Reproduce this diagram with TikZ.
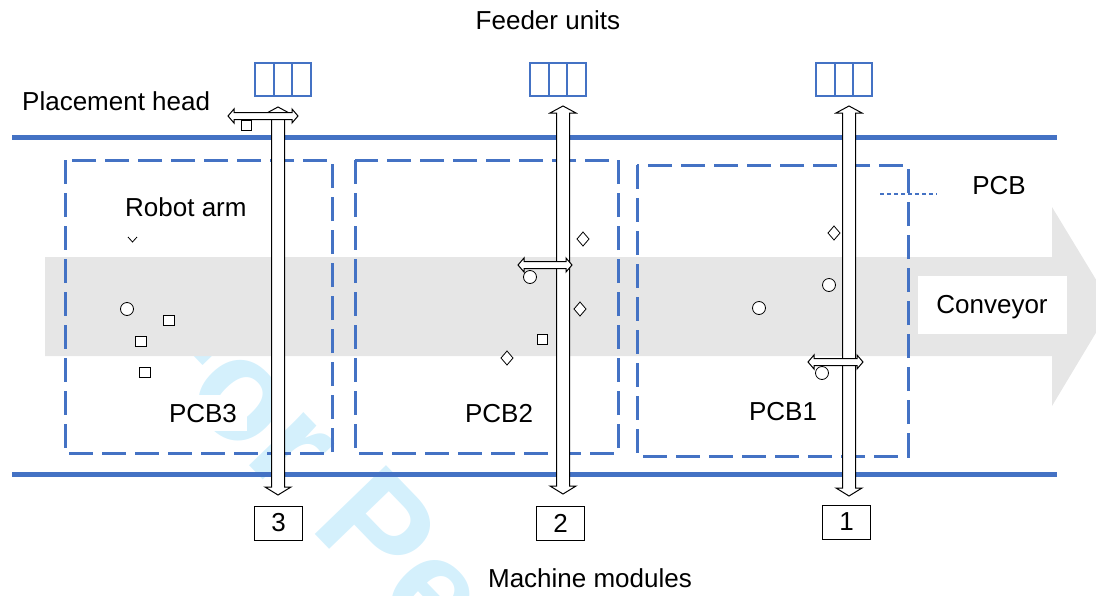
\documentclass[tikz,border=0pt]{standalone}
\usepackage{fontspec}
\setmainfont{Liberation Sans}
\definecolor{pblue}{RGB}{68,114,196}
\definecolor{cgray}{RGB}{230,230,230}
\definecolor{wmcyan}{RGB}{212,240,252}
\newcommand\vdarr[3]{%
 \filldraw[arr] (#1,#2) -- (#1+13,#2+7) -- (#1+6.5,#2+7) -- (#1+6.5,#3-8) -- (#1+13,#3-8) -- (#1,#3) -- (#1-13,#3-8) -- (#1-6.5,#3-8) -- (#1-6.5,#2+7) -- (#1-13,#2+7) -- cycle;}
\newcommand\hdarr[3]{%
 \filldraw[arr] (#1,#3) -- (#1+6,#3-7) -- (#1+6,#3-3.5) -- (#2-6,#3-3.5) -- (#2-6,#3-7) -- (#2,#3) -- (#2-6,#3+7) -- (#2-6,#3+3.5) -- (#1+6,#3+3.5) -- (#1+6,#3+7) -- cycle;}
\begin{document}
\begin{tikzpicture}[x=1pt,y=-1pt,
  lbl/.style={font=\fontsize{26}{30}\selectfont, inner sep=0pt},
  blueline/.style={draw=pblue, line width=5pt},
  pcb/.style={draw=pblue, line width=3pt, dash pattern=on 24pt off 9pt},
  feeder/.style={draw=pblue, line width=1.6pt},
  arr/.style={draw=black, fill=white, line width=1pt, line join=miter},
  comp/.style={draw=black, fill=white, line width=0.8pt},
  modbox/.style={draw=black, fill=white, line width=1pt, minimum width=48pt, minimum height=34pt, inner sep=0pt, font=\fontsize{26}{30}\selectfont}]
\useasboundingbox (0,0) rectangle (1096,595);
\clip (0,0) rectangle (1096,595);
% watermark
\node[rotate=-46, anchor=base west, inner sep=0pt, text=wmcyan, font=\fontsize{144}{144}\selectfont\bfseries] (wm) at (120,332) {For Peer Review};
% conveyor
\fill[cgray] (45,257) -- (1052,257) -- (1052,207) -- (1112,306) -- (1052,406) -- (1052,356) -- (45,356) -- cycle;
\node[fill=white, minimum width=149pt, minimum height=58pt, inner sep=0pt] (convbox) at (992.5,305) {};
\node[lbl, anchor=base] (conv) at (992,313) {Conveyor};
% rails
\draw[blueline] (12,137) -- (1057,137);
\draw[blueline] (12,474) -- (1057,474);
% PCBs
\draw[pcb] (65,160) rectangle (332,453);
\draw[pcb] (355,160) rectangle (618,453);
\draw[pcb] (637,165) rectangle (908,456);
\draw[draw=pblue, line width=1.2pt, dash pattern=on 4pt off 3pt] (880,194) -- (937,194);
% feeder units
\foreach \x in {255,530,816}{
  \draw[feeder] (\x,63) rectangle (\x+56,96);
  \draw[feeder] (\x+19,63) -- (\x+19,96);
  \draw[feeder] (\x+37,63) -- (\x+37,96);
}
% components PCB3
\draw[comp, fill=none] (128,237) -- (132.5,242) -- (137,237);
\draw[comp] (127,309) circle (6.5);
\draw[comp] (163,315) rectangle (174,325);
\draw[comp] (135,336) rectangle (146,346);
\draw[comp] (139,367) rectangle (150,377);
% PCB2
\draw[comp] (583,232) -- (589,239) -- (583,246) -- (577,239) -- cycle;
\draw[comp] (580,302) -- (586,309) -- (580,316) -- (574,309) -- cycle;
\draw[comp] (507,351) -- (513,358) -- (507,365) -- (501,358) -- cycle;
\draw[comp] (537,334) rectangle (547,344);
% PCB1
\draw[comp] (834,226) -- (840,233) -- (834,240) -- (828,233) -- cycle;
\draw[comp] (829,285) circle (6.5);
\draw[comp] (759,308) circle (6.5);
% labels inside PCB areas (white text boxes)
\node[lbl, anchor=base, fill=white, inner xsep=10pt, inner ysep=9pt] (p3) at (203,422) {PCB3};
% vertical arrows
\vdarr{278}{107}{495}
\vdarr{563}{106}{494}
\vdarr{849}{106}{496}
% horizontal arrows
\hdarr{228}{298}{116}
\draw[comp] (241,120) rectangle (251,130);
\draw[comp] (530,277) circle (6.5);
\hdarr{518}{572}{265}
\draw[comp] (822,373) circle (6.5);
\hdarr{808}{863}{362}
% labels
\node[lbl, anchor=base] (feed) at (548,29) {Feeder units};
\node[lbl, anchor=base west] (head) at (22,110) {Placement head};
\node[lbl, anchor=base west] (robot) at (125,216) {Robot arm};
\node[lbl, anchor=base] (pcbl) at (999,194) {PCB};
\node[lbl, anchor=base] (p2) at (499,422) {PCB2};
\node[lbl, anchor=base] (p1) at (783,420) {PCB1};
\node[lbl, anchor=base] (mm) at (590,587) {Machine modules};
\node[modbox] (m3) at (278.5,523) {3};
\node[modbox] (m2) at (560.5,523) {2};
\node[modbox] (m1) at (846.5,522) {1};
\end{tikzpicture}
\end{document}
